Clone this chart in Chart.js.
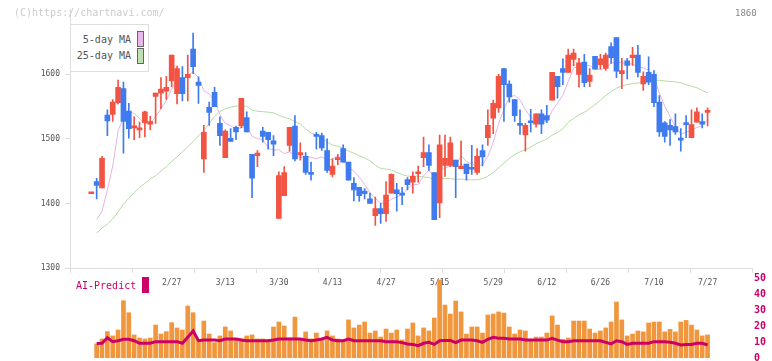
<!DOCTYPE html>
<html>
<head>
<meta charset="utf-8">
<script src="https://cdn.jsdelivr.net/npm/chart.js@4.4.1/dist/chart.umd.min.js"></script>
<style>
  body { margin: 0; background: #fff; overflow: hidden; }
  #page { position: relative; width: 772px; height: 361px; overflow: hidden; font-family: "DejaVu Sans Mono", monospace; }
  #price { position: absolute; left: 0; top: 0; }
  #vol { position: absolute; left: 0; top: 270px; }
  .txt { position: absolute; white-space: pre; line-height: 12px; }
  #wm { left: 14px; top: 7px; font-size: 10px; color: #ccc; }
  #code { left: 735px; top: 7px; font-size: 9px; color: #888; }
  #legend { position: absolute; left: 70px; top: 24px; width: 79px; height: 48px; box-sizing: border-box;
            border: 1px solid #ddd; background: #fff; }
  .lg { position: absolute; left: 0; width: 60px; text-align: right; font-size: 10px; color: #555; line-height: 12px; }
  .sw { position: absolute; left: 66px; width: 7px; height: 16px; box-sizing: border-box; border: 1px solid #666; }
  #ai { left: 76px; top: 280px; font-size: 10px; color: #cc0066; }
  #aiBox { position: absolute; left: 142px; top: 277px; width: 7px; height: 16px; background: #cc0066; }
</style>
</head>
<body>
<div id="page">
  <canvas id="price" width="772" height="293"></canvas>
  <canvas id="vol" width="772" height="100"></canvas>
  <div id="wm" class="txt">(C)https://chartnavi.com/</div>
  <div id="code" class="txt">1860</div>
  <div id="legend">
    <div class="lg" style="top:9px">5-day MA</div>
    <div class="sw" style="top:6px;background:#e8b8e8"></div>
    <div class="lg" style="top:25px">25-day MA</div>
    <div class="sw" style="top:23px;background:#bfe0b0"></div>
  </div>
  <div id="ai" class="txt">AI-Predict</div>
  <div id="aiBox"></div>
</div>
<script>
// x tick labels (candle index -> date)
const tickIdx = [15, 25, 35, 45, 55, 65, 75, 85, 95, 105, 115];
const tickLabels = ["2/27", "3/13", "3/30", "4/13", "4/27", "5/15", "5/29", "6/12", "6/26", "7/10", "7/27"];

// daily candles
const open = [1415,1434,1424,1537,1538,1556,1578,1543,1517,1514,
  1525,1523,1566,1571,1574,1590,1570,1595,1595,1639,
  1588,1469,1549,1572,1524,1471,1501,1518,1520,1533,
  1476,1474,1512,1510,1497,1377,1412,1490,1520,1475,
  1473,1448,1506,1505,1482,1445,1468,1485,1464,1431,
  1425,1419,1407,1381,1392,1384,1416,1421,1416,1437,
  1433,1446,1471,1479,1448,1401,1459,1459,1467,1454,
  1461,1456,1448,1482,1502,1532,1548,1609,1585,1561,
  1524,1506,1528,1523,1539,1536,1560,1597,1609,1603,
  1623,1600,1619,1589,1628,1615,1609,1643,1657,1601,
  1621,1626,1630,1585,1603,1600,1557,1525,1521,1519,
  1500,1524,1502,1526,1527,1541];
const high = [1416,1439,1473,1545,1561,1591,1588,1555,1534,1526,
  1543,1535,1571,1595,1597,1630,1613,1612,1630,1664,
  1596,1521,1557,1580,1534,1514,1516,1520,1563,1542,
  1476,1482,1518,1510,1505,1449,1457,1518,1536,1494,
  1479,1464,1510,1509,1500,1469,1476,1491,1464,1440,
  1425,1423,1416,1410,1400,1434,1446,1431,1425,1440,
  1449,1458,1503,1491,1448,1506,1506,1503,1467,1497,
  1461,1490,1485,1491,1545,1560,1600,1609,1590,1561,
  1545,1524,1546,1539,1545,1552,1603,1597,1624,1639,
  1639,1625,1631,1609,1628,1631,1633,1649,1657,1625,
  1625,1642,1645,1604,1627,1606,1567,1527,1530,1539,
  1516,1536,1545,1548,1539,1548];
const low = [1415,1407,1424,1505,1527,1554,1478,1501,1499,1502,
  1503,1514,1524,1547,1561,1581,1554,1559,1559,1601,
  1555,1448,1521,1550,1490,1471,1496,1499,1517,1511,
  1409,1457,1495,1484,1474,1377,1412,1481,1466,1467,
  1445,1436,1484,1482,1448,1441,1460,1464,1436,1404,
  1403,1407,1400,1366,1369,1372,1416,1388,1398,1421,
  1416,1433,1457,1451,1375,1378,1442,1457,1409,1454,
  1436,1445,1445,1458,1490,1508,1541,1527,1557,1527,
  1507,1481,1511,1518,1508,1525,1560,1563,1584,1603,
  1613,1580,1581,1581,1608,1608,1606,1617,1595,1578,
  1593,1614,1596,1575,1584,1550,1504,1495,1490,1507,
  1481,1502,1502,1526,1517,1520];
const close = [1416,1428,1470,1528,1557,1580,1527,1516,1518,1516,
  1542,1527,1571,1577,1580,1630,1609,1570,1600,1612,
  1583,1510,1541,1550,1505,1512,1496,1511,1563,1511,
  1439,1478,1504,1499,1492,1443,1448,1518,1469,1479,
  1448,1445,1504,1486,1451,1458,1470,1464,1436,1421,
  1412,1415,1400,1392,1384,1413,1445,1415,1413,1429,
  1442,1449,1479,1459,1375,1491,1470,1494,1457,1458,
  1446,1453,1473,1472,1521,1555,1597,1584,1565,1536,
  1521,1521,1525,1539,1523,1529,1603,1581,1603,1630,
  1633,1618,1587,1599,1608,1624,1630,1626,1605,1606,
  1614,1630,1603,1597,1588,1556,1511,1504,1514,1511,
  1498,1522,1522,1542,1523,1543];

// moving averages as drawn
const ma5 = [null,1375,1388,1421,1458,1512.6,1532.4,1541.6,1539.6,1531.4,
  1523.8,1523.8,1534.8,1546.6,1559.4,1577,1593.4,1593.2,1597.8,1604.2,
  1594.8,1575,1569.2,1559.2,1537.8,1523.6,1520.8,1514.8,1517.4,1518.6,
  1504,1500.4,1499,1486.2,1482.4,1483.2,1477.2,1480,1474,1471.4,
  1472.4,1471.8,1469,1472.4,1466.8,1468.8,1473.8,1465.8,1455.8,1449.8,
  1440.6,1429.6,1416.8,1408,1400.6,1400.8,1406.8,1409.8,1414,1423,
  1428.8,1429.6,1442.4,1451.6,1440.8,1450.6,1454.8,1457.8,1457.4,1474,
  1465,1461.6,1457.4,1460.4,1473,1494.8,1523.6,1545.8,1564.4,1567.4,
  1560.6,1545.4,1533.6,1528.4,1525.8,1527.4,1543.8,1555,1567.8,1589.2,
  1610,1613,1614.2,1613.4,1609,1607.2,1609.6,1617.4,1618.6,1618.2,
  1616.2,1616.2,1611.6,1610,1606.4,1594.8,1571,1551.2,1534.6,1519.2,
  1507.6,1510,1513.6,1517.8,1520.2,1529.2];
const ma25 = [null,1354,1362,1368,1376,1387,1399,1408,1417,1425,
  1431,1438,1443,1450,1457,1465,1472,1480,1488,1496,
  1505,1513,1524,1535,1542.5,1546.4,1549.1,1550.7,1552.1,1550.3,
  1544.6,1542.7,1542.2,1541.4,1540.5,1536.5,1533.4,1531.2,1526.9,1522.9,
  1515.6,1509,1506.4,1501.8,1495.4,1490.4,1488.8,1485.7,1481.2,1477.8,
  1473.8,1470.6,1466.1,1459.3,1454.2,1453.2,1451.8,1448.3,1444.8,1442.3,
  1442.3,1442.3,1440.8,1440.4,1436.2,1437.9,1438.9,1438.5,1437.4,1437.6,
  1437.2,1436.5,1436.8,1438.3,1442.3,1448,1455.3,1462.6,1469.6,1475.6,
  1480,1483,1487.4,1492.4,1496.2,1499.7,1505.8,1509.9,1515.7,1525.9,
  1531.6,1537.5,1541.2,1546.9,1552.9,1560,1567.1,1573.2,1578.5,1581.9,
  1584.3,1585.6,1586.4,1587.6,1589.7,1591.1,1590.7,1589.9,1588.9,1588.4,
  1587.2,1584,1581.6,1579.2,1574.9,1571.3];

// lower panel
const volume = [null,8.8,11.9,16.5,13.8,17.5,35.8,28.3,14.4,12.5,
  11.9,12.5,20.6,15,16.5,22.1,18.8,17.5,32.5,28.3,
  11.7,23.1,15,9.6,13.8,19.4,16.9,11.9,11.9,13.8,
  14.4,11.9,11.9,10.6,19.4,22.5,20,12.5,25.6,11.9,
  16.3,11.9,15.6,11.9,16.9,13.8,11.9,10.6,23.8,18.8,
  20.6,22.5,15.6,16.9,13.1,18.1,15.6,17.5,11.3,18.1,
  21.9,13.8,18.8,16.9,25,48.8,33.1,27.5,35.6,28.8,
  15,19.4,19.4,15.6,26.9,27.5,28.8,28.1,19.4,15,
  17.5,16.9,11.3,13.1,13.1,15.6,26.3,20.6,11.7,12.5,
  23.1,23.1,23.1,18.1,15.6,16.9,18.8,22.5,35,23.8,
  13.8,15,16.9,16.3,21.9,22.5,22.5,16.3,17.9,16.3,
  22.5,23.5,20.6,17.5,13.8,14.4];
const aiPredict = [null,9.1,9.2,12.7,10.2,10.8,11.7,11.7,10.8,9.2,
  9.2,9.2,10.2,10.2,10.2,10.2,10.2,9.2,13,16.9,
  10.8,11.2,11.2,11.2,10.8,11.9,11.9,11.9,11.2,10.8,
  10.8,10.8,10.8,10.8,11.2,11.9,11.9,11.9,11.9,11.9,
  11.2,10.8,11.2,11.9,12.9,11.2,10.8,10.8,11.9,10.8,
  10.8,10.8,10.8,10.8,10.8,10.2,10.2,10.2,9.6,8.8,
  8.5,7.7,9.2,9.8,8.5,10.8,11,11,9.6,11.2,
  11.2,11.2,10.8,9.8,11.7,12.9,12.3,12.3,11.9,11.9,
  11.9,11.2,11.2,11.2,11.2,11.2,12.3,11.2,10.2,10.2,
  10.8,10.8,10.8,10.8,10.8,10.8,9.8,8.8,10.8,10.2,
  8.5,9.2,9.2,9.2,9.2,10.2,10.2,10.2,9.8,9.2,
  8.1,8.5,8.5,9.2,9.2,8.1];

const UP = "#f25342";
const DOWN = "#3f7bef";
const X_MIN = -3.975, X_MAX = 123.29;
const FONT = "DejaVu Sans Mono";

const toPoints = (arr) => arr.map((v, i) => ({ x: i, y: v })).filter((p) => p.y !== null);
const candleColor = close.map((c, i) => (c >= open[i] ? UP : DOWN));
const wickData = close.map((c, i) => ({ x: i, y: [low[i], high[i]] }));
const bodyData = close.map((c, i) => ({ x: i, y: [Math.min(open[i], c), Math.max(open[i], c)] }));

const priceChart = new Chart(document.getElementById("price"), {
  type: "bar",
  data: {
    datasets: [
      { type: "bar", data: bodyData, backgroundColor: candleColor, barThickness: 5, minBarLength: 2,
        grouped: false, order: 0, xAxisID: "x", yAxisID: "y" },
      { type: "bar", data: wickData, backgroundColor: candleColor, barThickness: 1,
        grouped: false, order: 1, xAxisID: "x", yAxisID: "y" },
      { type: "line", data: toPoints(ma5), borderColor: "#e6b3e6", borderWidth: 1, pointRadius: 0,
        order: 2, xAxisID: "x", yAxisID: "y" },
      { type: "line", data: toPoints(ma25), borderColor: "#b5dba5", borderWidth: 1, pointRadius: 0,
        order: 3, xAxisID: "x", yAxisID: "y" },
    ],
  },
  options: {
    responsive: false,
    animation: false,
    events: [],
    layout: { padding: { left: 0, right: 20, top: 0, bottom: 0 } },
    plugins: { legend: { display: false }, tooltip: { enabled: false } },
    scales: {
      x: {
        type: "linear", min: X_MIN, max: X_MAX, offset: false, position: "bottom", weight: 1,
        grid: { display: false, drawTicks: false, offset: false },
        border: { display: false },
        afterBuildTicks: (s) => { s.ticks = tickIdx.map((v) => ({ value: v })); },
        afterFit: (s) => { s.height = 20; },
        ticks: {
          autoSkip: false, maxRotation: 0, padding: 5, color: "#555",
          font: { family: FONT, size: 8 },
          callback: (v) => { const k = tickIdx.indexOf(v); return k >= 0 ? tickLabels[k] : ""; },
        },
      },
      xg: {
        type: "linear", min: 0, max: 11, offset: false, position: "bottom", weight: 0,
        ticks: { display: false, stepSize: 1 },
        grid: { drawOnChartArea: false, tickLength: 5, color: "#ddd", offset: false },
        border: { color: "#ddd" },
      },
      y: {
        min: 1300, max: 1700, position: "left",
        afterBuildTicks: (s) => { s.ticks = s.ticks.filter((t) => t.value < 1700); },
        afterFit: (s) => { s.width = 70; },
        ticks: { stepSize: 100, padding: 5, color: "#555", font: { family: FONT, size: 8 },
          callback: (v) => String(v) },
        grid: { drawOnChartArea: false, tickLength: 5, color: "#ddd" },
        border: { color: "#ddd" },
      },
    },
  },
});

const volChart = new Chart(document.getElementById("vol"), {
  type: "bar",
  data: {
    datasets: [
      { type: "line", data: toPoints(aiPredict), borderColor: "#cc0066", borderWidth: 3, pointRadius: 0,
        order: 0, xAxisID: "x", yAxisID: "y" },
      { type: "bar", data: toPoints(volume), backgroundColor: "#f0963c", barThickness: 4,
        grouped: false, order: 1, xAxisID: "x", yAxisID: "y" },
    ],
  },
  options: {
    responsive: false,
    animation: false,
    events: [],
    layout: { padding: { left: 70, right: 0, top: 8, bottom: 12 } },
    plugins: { legend: { display: false }, tooltip: { enabled: false } },
    scales: {
      x: { type: "linear", min: X_MIN, max: X_MAX, offset: false, grid: { offset: false }, display: false },
      y: {
        position: "right", min: 0, max: 50,
        afterFit: (s) => { s.width = 20; },
        ticks: { stepSize: 10, padding: 2, color: "#cc0066", font: { family: FONT, size: 10, weight: "bold" } },
        grid: { display: false, drawTicks: false },
        border: { display: false },
      },
    },
  },
});
</script>
</body>
</html>
